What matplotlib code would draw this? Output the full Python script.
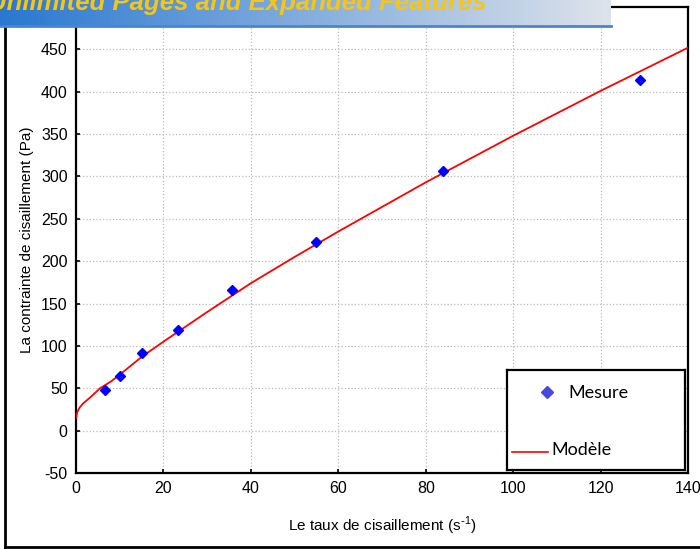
import numpy as np
import matplotlib.pyplot as plt
from matplotlib.lines import Line2D

# measured shear rate / shear stress
taux = [6.6, 10.1, 15.2, 23.4, 35.8, 55.0, 83.9, 129.0]
contrainte = [48.5, 64.5, 91.5, 118.5, 166, 223, 307, 414]

# model curve
taux_modele = [0, 0.3, 0.8, 1.6, 3.2, 5.5, 8, 10, 15, 20, 30, 40, 50, 60, 80, 100, 120, 140]
contrainte_modele = [15, 22, 27, 32, 39, 50, 58, 66, 87, 105, 140, 174, 205, 235, 293, 348, 401, 452]

xticks = [0, 20, 40, 60, 80, 100, 120, 140]
yticks = [-50, 0, 50, 100, 150, 200, 250, 300, 350, 400, 450]

plt.rcParams['font.family'] = ['Liberation Sans', 'DejaVu Sans']
plt.rcParams['axes.unicode_minus'] = False

fig = plt.figure(figsize=(7, 5.49), dpi=100)
W, H = 700, 549

ax = fig.add_axes([76 / W, 1 - 473 / H, (688 - 76) / W, (473 - 7) / H])
ax.set_xlim(0, 140)
ax.set_ylim(-50, 500)
ax.set_xticks(xticks)
ax.set_yticks(yticks)
ax.tick_params(direction='in', length=3, width=1.2, labelsize=11.5, pad=6)
ax.grid(True, color='#bbbbbb', linestyle=':', linewidth=0.9)
for s in ax.spines.values():
    s.set_linewidth(1.6)

ax.plot(taux_modele, contrainte_modele, color='red', linewidth=1.3, zorder=3)
ax.plot(taux, contrainte, linestyle='none', marker='D', markersize=5.5,
        color='blue', zorder=4)

ax.set_xlabel('Le taux de cisaillement (s$^{\\mathregular{\\text{-}1}}$)', fontsize=11, labelpad=13)
ax.set_ylabel('La contrainte de cisaillement (Pa)', fontsize=11, labelpad=5)

# legend box drawn by hand in figure pixels
leg = fig.add_axes([507 / W, 1 - 470 / H, (685 - 507) / W, (470 - 370) / H])
leg.set_xlim(0, 178)
leg.set_ylim(100, 0)
leg.set_xticks([])
leg.set_yticks([])
for s in leg.spines.values():
    s.set_linewidth(1.6)
leg.plot([40], [22], marker='D', markersize=6, color='#4848e0', linestyle='none')
leg.text(61, 23, 'Mesure', fontsize=13, family='Lato', va='center')
leg.add_line(Line2D([5, 41], [82, 82], color='red', linewidth=1.2))
leg.text(44, 80, 'Modèle', fontsize=13, family='Lato', va='center')

# outer frame
frame = fig.add_axes([0, 0, 1, 1], facecolor='none')
frame.set_xlim(0, W)
frame.set_ylim(H, 0)
frame.axis('off')
frame.add_line(Line2D([5, 5], [8, 547], color='black', linewidth=2))
frame.add_line(Line2D([5, 700], [547, 547], color='black', linewidth=2))

# banner at the top
grad = np.linspace(0, 1, 256).reshape(1, -1)
c0 = np.array([0.16, 0.47, 0.82])
c1 = np.array([0.87, 0.89, 0.92])
img = c0[None, None, :] * (1 - grad[..., None]) + c1[None, None, :] * grad[..., None]
frame.imshow(img, extent=[0, 611, 26, 0], aspect='auto', zorder=5)
frame.add_line(Line2D([0, 611], [26, 26], color='#4a86c8', linewidth=2, zorder=6))
frame.text(-12, 3, 'Unlimited Pages and Expanded Features', fontsize=18.5,
           fontweight='bold', style='italic', color='#f5c518', va='center',
           ha='left', zorder=7, clip_on=True)
frame.set_xlim(0, W)
frame.set_ylim(H, 0)

fig.savefig('out.png', dpi=100)
